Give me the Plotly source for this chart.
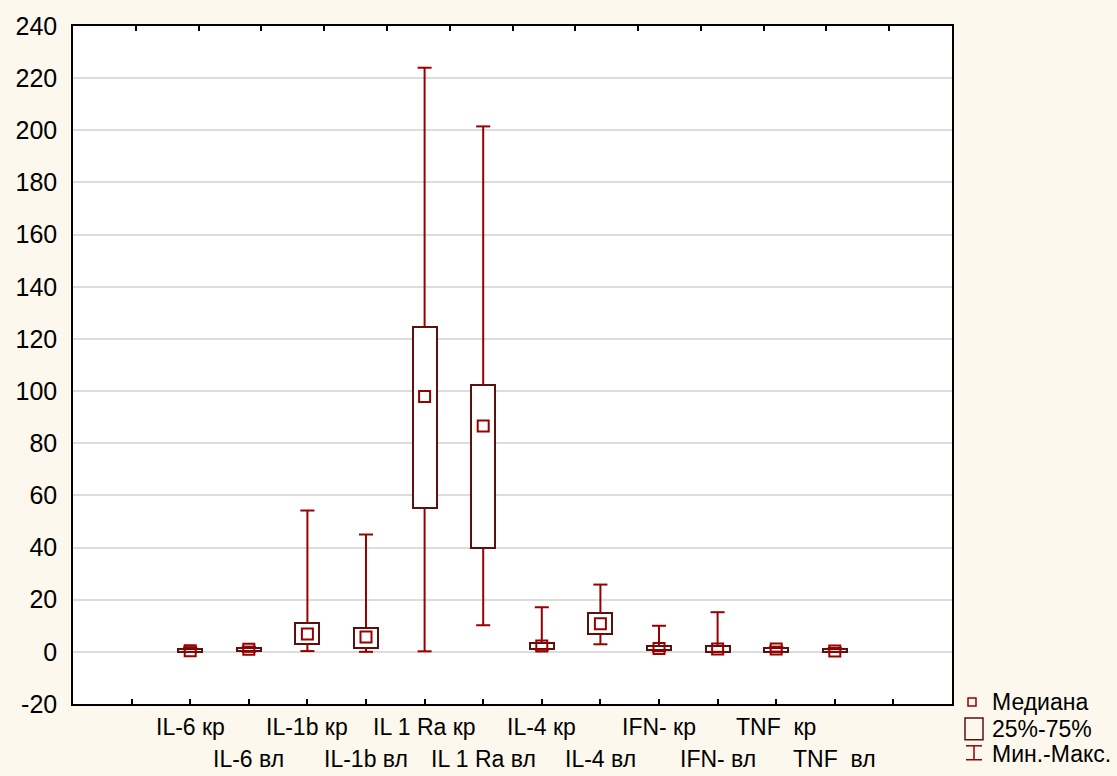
import plotly.graph_objects as go

categories = ["IL-6 кр", "IL-6 вл", "IL-1b кр", "IL-1b вл", "IL 1 Ra кр", "IL 1 Ra вл",
              "IL-4 кр", "IL-4 вл", "IFN- кр", "IFN- вл", "TNF\u00a0\u00a0кр", "TNF\u00a0\u00a0вл"]
mins    = [0.0, 0.0, 0.3, 0.0, 0.2, 10.2, 0.8, 2.9, 0.3, 0.0, 0.1, 0.0]
q1      = [0.1, 0.2, 2.9, 1.3, 55.1, 39.7, 1.2, 6.9, 0.6, 0.1, 0.1, 0.0]
medians = [0.4, 1.0, 6.8, 5.7, 97.9, 86.6, 2.2, 10.8, 1.3, 1.1, 1.1, 0.3]
q3      = [1.2, 1.3, 11.2, 9.3, 124.5, 102.3, 3.5, 14.8, 2.1, 2.1, 1.6, 1.1]
maxs    = [1.8, 2.0, 54.2, 45.0, 224.0, 201.5, 17.1, 25.8, 10.0, 15.2, 2.0, 1.5]
y_ticks = list(range(-20, 241, 20))

W, H = 1117, 776
L, R, T, B = 73, 952, 23, 704
WHISK = "#990000"
BOXC = "#5C1111"
BG = "#FDF8ED"
FONT = "Liberation Sans, Arial, sans-serif"
FS = 23
FSY = 25

pos = list(range(len(categories)))
cap = 0.12

fig = go.Figure()

# boxes (25%-75%)
fig.add_trace(go.Bar(
    x=pos, y=[b - a for a, b in zip(q1, q3)], base=q1, width=0.41,
    marker=dict(color="white", line=dict(color=BOXC, width=2)),
    showlegend=False, hoverinfo="skip"))

# whiskers
wx, wy = [], []
for i in pos:
    wx += [i, i, None, i, i, None]
    wy += [q3[i], maxs[i], None, q1[i], mins[i], None]
    wx += [i - cap, i + cap, None, i - cap, i + cap, None]
    wy += [maxs[i], maxs[i], None, mins[i], mins[i], None]
fig.add_trace(go.Scatter(x=wx, y=wy, mode="lines", line=dict(color=WHISK, width=2),
                         showlegend=False, hoverinfo="skip"))

# medians
fig.add_trace(go.Scatter(x=pos, y=medians, mode="markers",
                         marker=dict(symbol="square-open", size=11, color=WHISK,
                                     line=dict(width=2, color=WHISK)),
                         showlegend=False))

# invisible trace for top axis
fig.add_trace(go.Scatter(x=[0], y=[0], xaxis="x2", mode="markers",
                         marker=dict(opacity=0), showlegend=False, hoverinfo="skip"))

def py(y):
    return (B - y) / (B - T)

def px(x):
    return (x - L) / (R - L)

# category labels in two rows
for i, c in zip(pos, categories):
    fig.add_annotation(x=i, y=py(727) if i % 2 == 0 else py(759), xref="x", yref="paper",
                       text=c, showarrow=False, xanchor="center", yanchor="middle",
                       font=dict(family=FONT, size=FS, color="black"))

# legend
shapes = []
shapes.append(dict(type="rect", xref="paper", yref="paper", x0=px(968), x1=px(976),
                   y0=py(706), y1=py(698), line=dict(color=WHISK, width=1.5)))
shapes.append(dict(type="rect", xref="paper", yref="paper", x0=px(965), x1=px(983),
                   y0=py(740), y1=py(718), line=dict(color=BOXC, width=1.5)))
for yy in (746, 760):
    shapes.append(dict(type="line", xref="paper", yref="paper", x0=px(966), x1=px(982),
                       y0=py(yy), y1=py(yy), line=dict(color=WHISK, width=1.5)))
shapes.append(dict(type="line", xref="paper", yref="paper", x0=px(974), x1=px(974),
                   y0=py(746), y1=py(760), line=dict(color=WHISK, width=1.5)))
for txt, yy in (("Медиана", 702), ("25%-75%", 729), ("Мин.-Макс.", 754)):
    fig.add_annotation(x=px(990), y=py(yy), xref="paper", yref="paper", text=txt,
                       showarrow=False, xanchor="left", yanchor="middle",
                       font=dict(family=FONT, size=FS, color="black"))

fig.update_layout(
    width=W, height=H,
    margin=dict(l=L, r=W - R, t=T, b=H - B, pad=0),
    paper_bgcolor=BG, plot_bgcolor="white",
    shapes=shapes,
    bargap=0,
    xaxis=dict(range=[-2, 13], tickmode="array", tickvals=list(range(-2, 14)),
               ticks="inside", ticklen=5, tickwidth=1.5, tickcolor="black",
               showticklabels=False, showgrid=False, zeroline=False,
               showline=True, linecolor="black", linewidth=1.5, mirror=True),
    xaxis2=dict(range=[0, 14], overlaying="x", side="top", tickmode="array",
                tickvals=list(range(0, 15)), ticks="inside", ticklen=5, tickwidth=1.5,
                tickcolor="black", showticklabels=False, showgrid=False, zeroline=False,
                showline=False),
    yaxis=dict(range=[-20, 240], tickmode="array", tickvals=y_ticks,
               ticktext=[str(v) for v in y_ticks],
               ticks="", showgrid=True, gridcolor="#DCDCDC", gridwidth=1.5, zeroline=False,
               showline=True, linecolor="black", linewidth=1.5, mirror=True,
               tickfont=dict(family=FONT, size=FSY, color="black"), ticklabelstandoff=9),
    font=dict(family=FONT, size=FS, color="black"),
)

fig.write_html("out.html", config={"displayModeBar": False},
               post_script="document.body.style.margin='0';document.body.style.overflow='hidden';")
